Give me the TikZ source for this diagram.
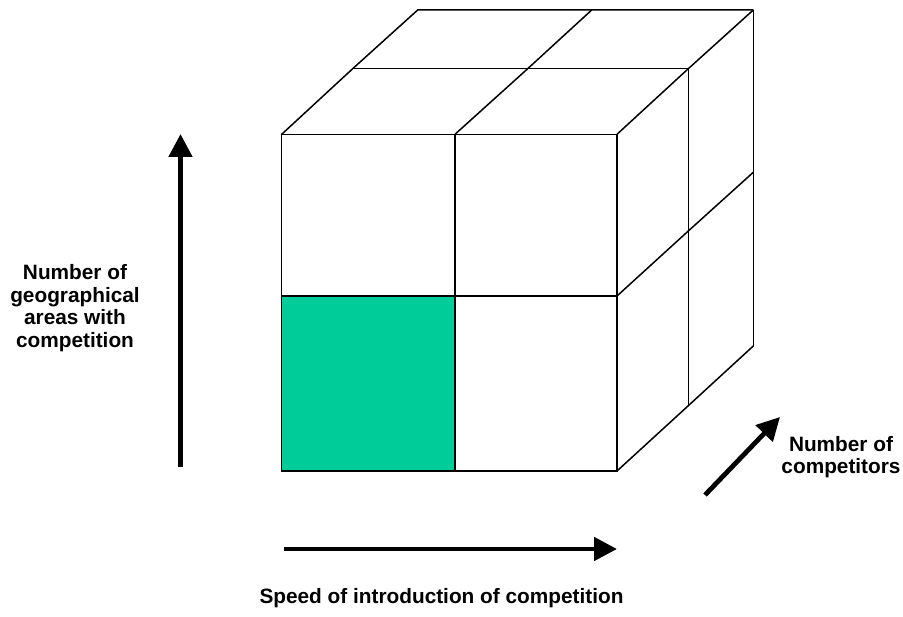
\documentclass[tikz,border=0pt]{standalone}
\usepackage{fontspec}
\setsansfont{Liberation Sans}
\usepackage{tikz}
\usetikzlibrary{arrows.meta,calc,positioning}
\definecolor{cellcol}{RGB}{0,204,153}
\tikzset{
  edge/.style={line width=1.5pt,black},
  axis/.style={line width=4.8pt,-{Triangle[length=23pt,width=23pt]}},
  lbl/.style={font=\sffamily\bfseries\fontsize{20.8}{22.5}\selectfont,align=center,inner sep=0pt}
}

\begin{document}
\begin{tikzpicture}[x=1pt,y=-1pt,>=Stealth]
\useasboundingbox (0,0) rectangle (903,617);
% front face corners
\coordinate (fTL) at (281.7,134.3); \coordinate (fTM) at (455,134.3); \coordinate (fTR) at (617,134.3);
\coordinate (fML) at (281.7,296);   \coordinate (fMM) at (455,296);   \coordinate (fMR) at (617,296);
\coordinate (fBL) at (281.7,471);   \coordinate (fBM) at (455,471);   \coordinate (fBR) at (617,471);
% middle and back layer
\coordinate (mTL) at (352.7,68.7); \coordinate (mTM) at (527.7,68.7); \coordinate (mTR) at (688.3,68.7);
\coordinate (mMR) at (688.3,231);  \coordinate (mBR) at (688.3,405.7);
\coordinate (bTL) at (417.7,10);   \coordinate (bTM) at (591.7,10);   \coordinate (bTR) at (753.3,10);
\coordinate (bMR) at (753.3,172.3); \coordinate (bBR) at (753.3,346);
% shaded cell
\fill[cellcol] (fML) rectangle (fBM);
% front face
\draw[edge] (fTL) rectangle (fBR);
\draw[edge] (fTM) -- (fBM);
\draw[edge] (fML) -- (fMR);
% top face
\draw[edge] (fTL) -- (mTL) -- (bTL) -- (bTR);
\draw[edge] (fTM) -- (mTM) -- (bTM);
\draw[edge] (fTR) -- (mTR) -- (bTR);
\draw[edge] (mTL) -- (mTR);
% right face
\draw[edge] (mTR) -- (mBR);
\draw[edge] (bTR) -- (bBR);
\draw[edge] (fMR) -- (mMR) -- (bMR);
\draw[edge] (fBR) -- (mBR) -- (bBR);
% axes
\coordinate (upS) at (180.5,467); \coordinate (upE) at (180.5,134);
\coordinate (rtS) at (283.5,549); \coordinate (rtE) at (617,549);
\coordinate (dgS) at (705,495);   \coordinate (dgE) at (780,417);
\draw[axis] (upS) -- (upE);
\draw[axis] (rtS) -- (rtE);
\draw[axis] (dgS) -- (dgE);
% labels
\node[lbl] (areas) at (75,308) {Number of\\geographical\\areas with\\competition};
\node[lbl,anchor=base] (speed) at (441.5,603) {Speed of introduction of competition};
\node[lbl] (comps) at (841,457) {Number of\\competitors};
\end{tikzpicture}
\end{document}
